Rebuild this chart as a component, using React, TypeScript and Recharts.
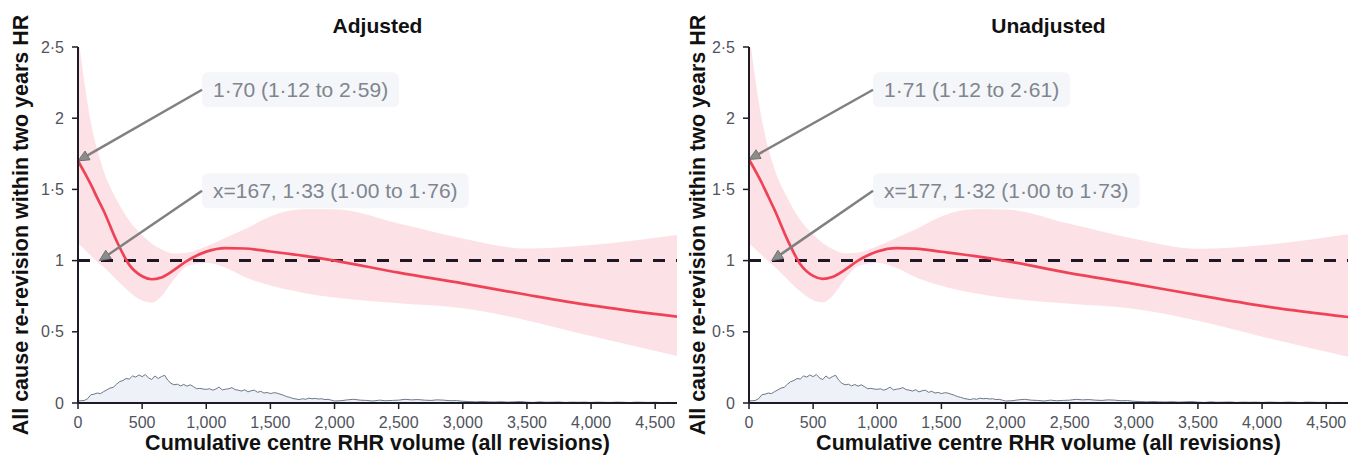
import React from "react";
import { ComposedChart, Line, Area, XAxis, YAxis, ReferenceLine, Label } from "recharts";

// spline grid (cumulative centre RHR volume)
const volumeGrid = [0, 50, 100, 150, 200, 300, 400, 500, 575, 650, 750, 850, 1000, 1150, 1300, 1500, 1750, 2000, 2500, 3000, 3500, 4000, 4670];

const adjustedHR = [1.7, 1.62, 1.535, 1.44, 1.35, 1.14, 0.97, 0.89, 0.869, 0.882, 0.935, 0.998, 1.063, 1.088, 1.085, 1.064, 1.035, 1.0, 0.915, 0.84, 0.76, 0.685, 0.606];
const adjustedLower = [1.12, 1.08, 1.035, 0.99, 0.955, 0.865, 0.78, 0.72, 0.705, 0.75, 0.87, 0.96, 0.985, 0.95, 0.885, 0.825, 0.775, 0.74, 0.7, 0.665, 0.58, 0.47, 0.33];
const adjustedUpper = [2.59, 2.25, 1.97, 1.78, 1.63, 1.43, 1.28, 1.18, 1.12, 1.08, 1.05, 1.055, 1.1, 1.16, 1.22, 1.31, 1.36, 1.36, 1.26, 1.155, 1.085, 1.11, 1.18];

const unadjustedHR = [1.71, 1.63, 1.545, 1.45, 1.355, 1.145, 0.975, 0.893, 0.872, 0.885, 0.937, 1.0, 1.064, 1.088, 1.084, 1.062, 1.033, 0.998, 0.912, 0.837, 0.757, 0.682, 0.604];
const unadjustedLower = [1.12, 1.08, 1.037, 0.993, 0.957, 0.868, 0.783, 0.722, 0.707, 0.752, 0.872, 0.961, 0.985, 0.948, 0.883, 0.823, 0.772, 0.737, 0.697, 0.662, 0.577, 0.466, 0.325];
const unadjustedUpper = [2.61, 2.27, 1.99, 1.79, 1.64, 1.44, 1.285, 1.183, 1.123, 1.082, 1.052, 1.057, 1.1, 1.16, 1.22, 1.31, 1.36, 1.358, 1.258, 1.153, 1.083, 1.108, 1.185];

// volume distribution (drawn on the HR scale), 25-wide bins up to 2000, 50-wide after
const histFine = [
  0.014, 0.016, 0.018, 0.03, 0.058, 0.062, 0.07, 0.066, 0.08, 0.092, 0.105, 0.11, 0.132, 0.15, 0.158, 0.172,
  0.168, 0.19, 0.182, 0.197, 0.185, 0.2, 0.176, 0.165, 0.19, 0.172, 0.185, 0.195, 0.16, 0.138, 0.128, 0.132,
  0.12, 0.13, 0.118, 0.128, 0.115, 0.1, 0.103, 0.098, 0.096, 0.1, 0.09, 0.098, 0.112, 0.092, 0.097, 0.1,
  0.108, 0.094, 0.09, 0.084, 0.093, 0.078, 0.086, 0.09, 0.075, 0.082, 0.07, 0.074, 0.066, 0.072, 0.07, 0.062,
  0.055, 0.045, 0.04, 0.032, 0.028, 0.024, 0.03, 0.026, 0.034, 0.03, 0.032, 0.028, 0.03, 0.024, 0.026, 0.02, 0.014,
];
const histCoarse = [
  0.016, 0.022, 0.026, 0.02, 0.018, 0.014, 0.02, 0.016, 0.018, 0.02, 0.026, 0.022, 0.024, 0.02, 0.018, 0.022,
  0.02, 0.016, 0.017, 0.012, 0.01, 0.008, 0.01, 0.008, 0.007, 0.009, 0.006, 0.008, 0.01, 0.006, 0.004, 0.008,
  0.005, 0.006, 0.007, 0.004, 0.006, 0.005, 0.006, 0.004, 0.006, 0.005, 0.004, 0.006, 0.005, 0.003, 0.006,
  0.005, 0.004, 0.005, 0.003, 0.004, 0.003,
];

const xTicks = [0, 500, 1000, 1500, 2000, 2500, 3000, 3500, 4000, 4500];
const yTicks = [0, 0.5, 1, 1.5, 2, 2.5];
const X_MAX = 4670;

const adjustedNotes = [
  { text: "1·70 (1·12 to 2·59)", from: [967, 2.2], to: [0, 1.7] },
  { text: "x=167, 1·33 (1·00 to 1·76)", from: [967, 1.49], to: [167, 1] },
];
const unadjustedNotes = [
  { text: "1·71 (1·12 to 2·61)", from: [967, 2.2], to: [0, 1.71] },
  { text: "x=177, 1·32 (1·00 to 1·73)", from: [967, 1.49], to: [177, 1] },
];

const FONT = '"Liberation Sans", Arial, sans-serif';
const INK = "#1d1b26";

const histRows = [
  ...histFine.map((d, i) => ({ x: i * 25, d })),
  ...histCoarse.map((d, i) => ({ x: 2050 + i * 50, d })),
];

const toRows = (hr: number[], lo: number[], hi: number[]) =>
  volumeGrid.map((x, i) => ({ x, hr: hr[i], band: [lo[i], hi[i]] }));

let ctx: CanvasRenderingContext2D | null = null;
function measure(text: string, font: string) {
  if (!ctx) ctx = document.createElement("canvas").getContext("2d");
  if (!ctx) return text.length * 9.5;
  ctx.font = font;
  return ctx.measureText(text).width;
}

function Callout(props: any) {
  const { x1, y1, x2, y2, text } = props;
  const fs = 21;
  const w = measure(text, `${fs}px ${FONT}`) + 22;
  const dx = x2 - x1;
  const dy = y2 - y1;
  const len = Math.sqrt(dx * dx + dy * dy);
  const ux = dx / len;
  const uy = dy / len;
  const hl = 11;
  const hw = 5;
  const bx = x2 - ux * hl;
  const by = y2 - uy * hl;
  const head = `${x2},${y2} ${bx - uy * hw},${by + ux * hw} ${bx + uy * hw},${by - ux * hw}`;
  return (
    <g>
      <rect x={x1} y={y1 - 17.5} width={w} height={35} rx={6} fill="#f4f6f9" />
      <text x={x1 + 11} y={y1 + 7.5} fontSize={fs} fill="#80858e" fontFamily={FONT}>
        {text}
      </text>
      <line x1={x1} y1={y1} x2={bx} y2={by} stroke="#808080" strokeWidth={2.5} />
      <polygon points={head} fill="#8c8c8c" stroke="#707070" strokeWidth={1} />
    </g>
  );
}

interface PanelProps {
  title: string;
  hr: number[];
  lo: number[];
  hi: number[];
  notes: { text: string; from: number[]; to: number[] }[];
  width: number;
  plotLeft: number;
}

function Panel({ title, hr, lo, hi, notes, width, plotLeft }: PanelProps) {
  const rows = toRows(hr, lo, hi);
  const yAxisW = 50;
  return (
    <div style={{ position: "relative", width, height: 456 }}>
      <div
        style={{
          position: "absolute",
          left: plotLeft,
          width: width - plotLeft,
          top: 15,
          textAlign: "center",
          fontWeight: 700,
          fontSize: 21,
          lineHeight: "21px",
          color: "#111",
        }}
      >
        {title}
      </div>
      <ComposedChart width={width} height={456} margin={{ top: 47, right: 0, bottom: 0, left: plotLeft - yAxisW }}>
        <XAxis
          type="number"
          dataKey="x"
          domain={[0, X_MAX]}
          ticks={xTicks}
          allowDataOverflow
          height={53}
          tickFormatter={(v: number) => v.toLocaleString("en-US")}
          tick={{ fill: "#50535c", fontSize: 16 }}
          tickSize={6}
          tickMargin={8}
          axisLine={{ stroke: INK, strokeWidth: 2 }}
          tickLine={{ stroke: INK, strokeWidth: 1.5 }}
        >
          <Label
            content={(p: any) => {
              const vb = p.viewBox;
              return (
                <text x={vb.x + vb.width / 2} y={vb.y + 47} textAnchor="middle" fontSize={21.5} fontWeight={700} fill="#111">
                  Cumulative centre RHR volume (all revisions)
                </text>
              );
            }}
          />
        </XAxis>
        <YAxis
          type="number"
          domain={[0, 2.5]}
          ticks={yTicks}
          allowDataOverflow
          width={yAxisW}
          tickFormatter={(v: number) => String(v).replace(".", "·")}
          tick={{ fill: "#50535c", fontSize: 16 }}
          tickSize={6}
          tickMargin={8}
          axisLine={{ stroke: INK, strokeWidth: 2 }}
          tickLine={{ stroke: INK, strokeWidth: 1.5 }}
        >
          <Label
            content={(p: any) => {
              const vb = p.viewBox;
              const cx = vb.x + vb.width - plotLeft + 28;
              const cy = vb.y + vb.height / 2;
              return (
                <text
                  x={cx}
                  y={cy}
                  textAnchor="middle"
                  transform={`rotate(-90, ${cx}, ${cy})`}
                  fontSize={21.5}
                  fontWeight={700}
                  fill="#111"
                >
                  All cause re-revision within two years HR
                </text>
              );
            }}
          />
        </YAxis>
        <Area
          data={rows}
          dataKey="band"
          type="monotone"
          fill="#fce2e6"
          fillOpacity={1}
          stroke="none"
          isAnimationActive={false}
        />
        <Area
          data={histRows}
          dataKey="d"
          type="linear"
          fill="#eef2f8"
          fillOpacity={1}
          stroke="#6c778a"
          strokeWidth={1}
          isAnimationActive={false}
        />
        <ReferenceLine y={1} stroke="#1f1726" strokeWidth={3} strokeDasharray="12 11" />
        <Line
          data={rows}
          dataKey="hr"
          type="monotone"
          stroke="#ef4257"
          strokeWidth={2.7}
          dot={false}
          isAnimationActive={false}
        />
        {notes.map((n) => (
          <ReferenceLine
            key={n.text}
            segment={[
              { x: n.from[0], y: n.from[1] },
              { x: n.to[0], y: n.to[1] },
            ]}
            ifOverflow="visible"
            shape={(p: any) => <Callout {...p} text={n.text} />}
          />
        ))}
      </ComposedChart>
    </div>
  );
}

export default function App() {
  return (
    <div style={{ position: "relative", width: 1348, height: 456, fontFamily: FONT, background: "#fff" }}>
      <style>{"body{margin:0}"}</style>
      <div style={{ position: "absolute", left: 0, top: 0 }}>
        <Panel title="Adjusted" hr={adjustedHR} lo={adjustedLower} hi={adjustedUpper} notes={adjustedNotes} width={677} plotLeft={78} />
      </div>
      <div style={{ position: "absolute", left: 677, top: 0 }}>
        <Panel title="Unadjusted" hr={unadjustedHR} lo={unadjustedLower} hi={unadjustedUpper} notes={unadjustedNotes} width={671} plotLeft={72} />
      </div>
    </div>
  );
}
